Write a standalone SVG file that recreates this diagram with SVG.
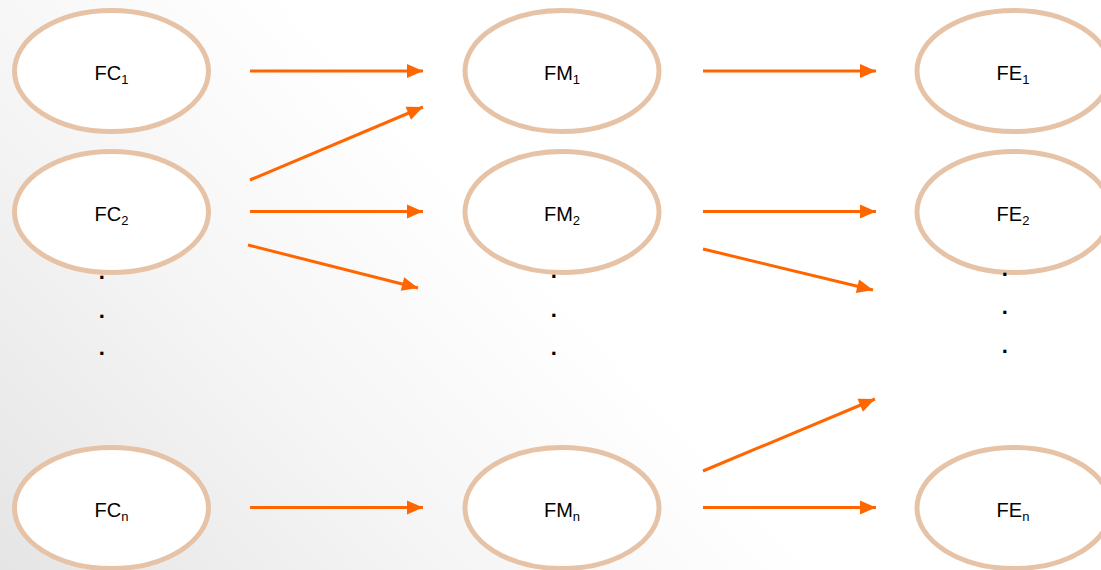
<svg xmlns="http://www.w3.org/2000/svg" width="1101" height="570" viewBox="0 0 1101 570">
  <defs>
    <linearGradient id="bg" gradientUnits="userSpaceOnUse" x1="0" y1="570" x2="440" y2="160">
      <stop offset="0" stop-color="#e5e5e5"/>
      <stop offset="0.55" stop-color="#f5f5f5"/>
      <stop offset="1" stop-color="#ffffff"/>
    </linearGradient>
    <marker id="ah" markerUnits="userSpaceOnUse" markerWidth="17" markerHeight="15" refX="16" refY="7" orient="auto" overflow="visible">
      <path d="M0,0 L16,7 L0,14 z" fill="#ff6600"/>
    </marker>
  </defs>
  <style>
    .node ellipse { fill: #ffffff; stroke: #e6c3a7; stroke-width: 5; }
    .lbl { font-family: "Liberation Sans", Arial, sans-serif; font-size: 20px; fill: #000000; text-anchor: middle; }
    .sub { font-size: 13px; }
    .dot { font-family: "Liberation Sans", Arial, sans-serif; font-size: 22px; font-weight: bold; fill: #000000; text-anchor: middle; }
    .conn line { stroke: #ff6600; stroke-width: 3; marker-end: url(#ah); }
  </style>
  <rect x="0" y="0" width="1101" height="570" fill="url(#bg)"/>

  <g id="FC1" class="node"><ellipse cx="111.5" cy="71" rx="97" ry="60.5"/><text class="lbl" x="111.5" y="80">FC<tspan class="sub" dy="4">1</tspan></text></g>
  <g id="FC2" class="node"><ellipse cx="111.5" cy="212" rx="97" ry="60.5"/><text class="lbl" x="111.5" y="221">FC<tspan class="sub" dy="4">2</tspan></text></g>
  <g id="FCn" class="node"><ellipse cx="111.5" cy="508" rx="97" ry="60.5"/><text class="lbl" x="111.5" y="517">FC<tspan class="sub" dy="4">n</tspan></text></g>

  <g id="FM1" class="node"><ellipse cx="562" cy="71" rx="97" ry="60.5"/><text class="lbl" x="562" y="80">FM<tspan class="sub" dy="4">1</tspan></text></g>
  <g id="FM2" class="node"><ellipse cx="562" cy="212" rx="97" ry="60.5"/><text class="lbl" x="562" y="221">FM<tspan class="sub" dy="4">2</tspan></text></g>
  <g id="FMn" class="node"><ellipse cx="562" cy="508" rx="97" ry="60.5"/><text class="lbl" x="562" y="517">FM<tspan class="sub" dy="4">n</tspan></text></g>

  <g id="FE1" class="node"><ellipse cx="1014" cy="71" rx="97" ry="60.5"/><text class="lbl" x="1013" y="80">FE<tspan class="sub" dy="4">1</tspan></text></g>
  <g id="FE2" class="node"><ellipse cx="1014" cy="212" rx="97" ry="60.5"/><text class="lbl" x="1013" y="221">FE<tspan class="sub" dy="4">2</tspan></text></g>
  <g id="FEn" class="node"><ellipse cx="1014" cy="508" rx="97" ry="60.5"/><text class="lbl" x="1013" y="517">FE<tspan class="sub" dy="4">n</tspan></text></g>

  <g id="dots">
    <text class="dot" x="101.7" y="278.5">.</text>
    <text class="dot" x="101.7" y="317.5">.</text>
    <text class="dot" x="101.7" y="355">.</text>
    <text class="dot" x="553.7" y="278">.</text>
    <text class="dot" x="553.7" y="316.5">.</text>
    <text class="dot" x="553.7" y="354.5">.</text>
    <text class="dot" x="1004.7" y="276">.</text>
    <text class="dot" x="1004.7" y="314">.</text>
    <text class="dot" x="1004.7" y="353">.</text>
  </g>

  <g id="connectors" class="conn">
    <line x1="250" y1="71" x2="423" y2="71"/>
    <line x1="250" y1="180" x2="423" y2="107"/>
    <line x1="250" y1="211.5" x2="423" y2="211.5"/>
    <line x1="248" y1="245" x2="418" y2="288"/>
    <line x1="703" y1="71" x2="876" y2="71"/>
    <line x1="703" y1="211.5" x2="876" y2="211.5"/>
    <line x1="703" y1="249" x2="873" y2="290"/>
    <line x1="703" y1="471" x2="875" y2="399"/>
    <line x1="250" y1="507.5" x2="423" y2="507.5"/>
    <line x1="703" y1="507.5" x2="876" y2="507.5"/>
  </g>
</svg>
